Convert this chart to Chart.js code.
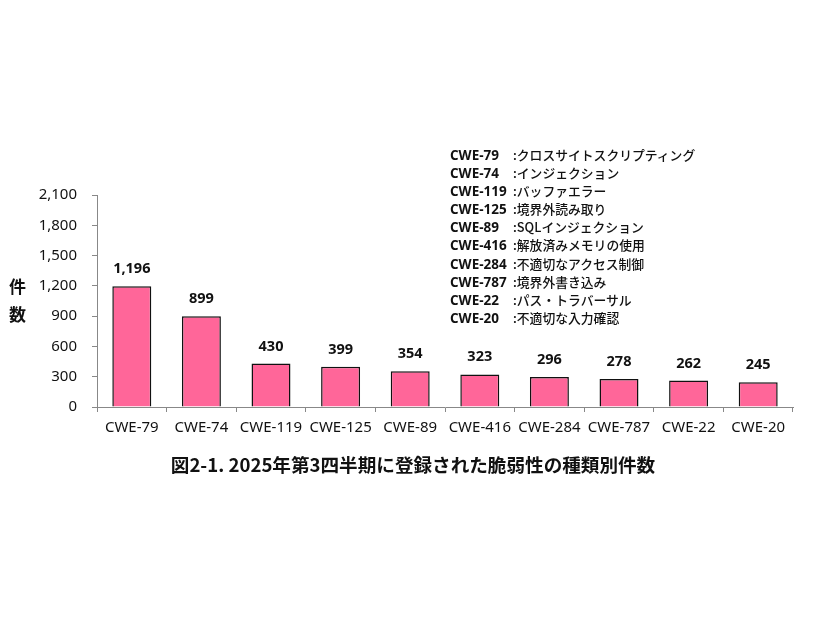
<!DOCTYPE html>
<html><head><meta charset="utf-8">
<script src="https://cdn.jsdelivr.net/npm/chart.js@4.4.1/dist/chart.umd.min.js"></script>
<style>
html,body{margin:0;padding:0;background:#fff;}
#wrap{position:relative;width:826px;height:620px;}
canvas{position:absolute;left:0;top:0;}
.leg{position:absolute;left:450px;top:146px;font-family:"Open Sans","Noto Sans CJK JP",sans-serif;font-size:13.5px;line-height:18.1px;color:#111;font-weight:bold;white-space:nowrap;}
.leg span.c{display:inline-block;width:63px;}
.leg span.d{font-family:"Noto Sans CJK JP",sans-serif;font-weight:500;font-size:12.8px;}
.yt{position:absolute;left:9px;top:272px;font-family:"Noto Sans CJK JP",sans-serif;font-weight:bold;font-size:17px;line-height:28px;color:#111;}
.cap{position:absolute;left:0;width:826px;top:450px;text-align:center;font-family:"Noto Sans CJK JP",sans-serif;font-weight:bold;font-size:18.6px;color:#111;}
</style></head>
<body><div id="wrap"><canvas id="c" width="826" height="620"></canvas>
<div class="leg" id="leg"></div>
<div class="yt">件<br>数</div>
<div class="cap" id="cap"></div>
</div>
<script>
const categories = ["CWE-79","CWE-74","CWE-119","CWE-125","CWE-89","CWE-416","CWE-284","CWE-787","CWE-22","CWE-20"];
const counts = [1196, 899, 430, 399, 354, 323, 296, 278, 262, 245];
const descriptions = ["クロスサイトスクリプティング","インジェクション","バッファエラー","境界外読み取り","SQLインジェクション","解放済みメモリの使用","不適切なアクセス制御","境界外書き込み","パス・トラバーサル","不適切な入力確認"];
const yTicks = [0,300,600,900,1200,1500,1800,2100];
const yAxisTitle = "件数";
const caption = "図2-1. 2025年第3四半期に登録された脆弱性の種類別件数";

document.getElementById('cap').textContent = caption;
const leg = document.getElementById('leg');
categories.forEach((c,i)=>{
  const d=document.createElement('div');
  d.innerHTML='<span class="c"></span><span class="d"></span>';
  d.children[0].textContent=c;
  d.children[1].textContent=':'+descriptions[i];
  leg.appendChild(d);
});

const labelPlugin = {
  id:'barLabels',
  afterDatasetsDraw(chart){
    const ctx=chart.ctx;
    const meta=chart.getDatasetMeta(0);
    ctx.save();
    ctx.font='bold 14.5px "Open Sans", sans-serif';
    ctx.fillStyle='#111';
    ctx.textAlign='center';
    ctx.textBaseline='alphabetic';
    meta.data.forEach((bar,i)=>{
      ctx.fillText(counts[i].toLocaleString('en-US'), bar.x, bar.y-13);
    });
    ctx.restore();
  }
};

new Chart(document.getElementById('c'),{
  type:'bar',
  data:{labels:categories,datasets:[{data:counts,backgroundColor:'#FF6699',borderColor:'#111',borderWidth:1.5,borderSkipped:'bottom',categoryPercentage:1,barPercentage:0.56}]},
  options:{
    responsive:false,animation:false,devicePixelRatio:1,
    layout:{padding:{left:0,right:33,top:195,bottom:0}},
    plugins:{legend:{display:false},tooltip:{enabled:false}},
    scales:{
      x:{
        offset:true,
        grid:{offset:true,drawOnChartArea:false,drawTicks:true,tickLength:5,color:'#888'},
        border:{color:'#888',width:1},
        ticks:{color:'#111',font:{family:'"Noto Sans", sans-serif',size:15},padding:7,maxRotation:0,autoSkip:false},
        afterFit(s){s.height=213;}
      },
      y:{
        min:0,max:2100,
        afterBuildTicks(s){s.ticks=yTicks.map(v=>({value:v}));},
        grid:{drawOnChartArea:false,drawTicks:true,tickLength:5,color:'#888'},
        border:{color:'#888',width:1},
        ticks:{color:'#111',font:{family:'"Noto Sans", sans-serif',size:15},padding:15,callback:v=>v.toLocaleString('en-US')},
        afterFit(s){s.width=97;}
      }
    }
  },
  plugins:[labelPlugin]
});
</script></body></html>
